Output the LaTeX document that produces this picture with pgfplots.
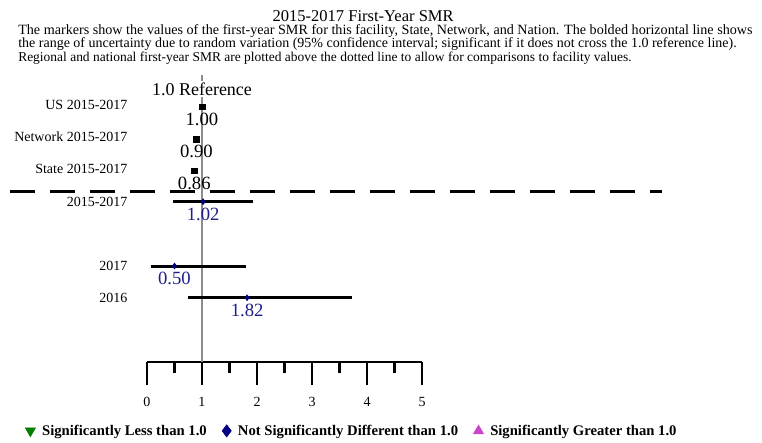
\documentclass[border=0pt]{standalone}
\usepackage{fontspec}
\setmainfont{Liberation Serif}
\usepackage{pgfplots}
\pgfplotsset{compat=1.18}

\definecolor{sigless}{RGB}{0,128,0}
\definecolor{notsig}{RGB}{0,0,128}
\definecolor{siggreater}{RGB}{204,68,204}
\definecolor{vallab}{RGB}{30,30,140}
\definecolor{refgray}{RGB}{140,140,140}

\begin{document}
\begin{tikzpicture}
\begin{axis}[
  scale only axis,
  width=206.25pt, height=215.25pt,
  xmin=0, xmax=5, ymin=79, ymax=366,
  clip=false,
  axis x line*=bottom,
  axis y line=none,
  x axis line style={-, line width=2pt},
  xtick={0,1,2,3,4,5},
  minor xtick={0.5,1.5,2.5,3.5,4.5},
  tick align=outside,
  major tick length=17.25pt,
  minor tick length=8.25pt,
  every tick/.style={black, line width=2pt},
  ytick=\empty,
  /pgf/number format/assume math mode=true,
  xticklabel style={font=\fontsize{10.5}{12}\selectfont, anchor=center, yshift=-12.75pt},
  legend columns=3,
  legend cell align=left,
  legend style={draw=none, fill=none, at={(-0.458,-0.240)}, anchor=west,
    font=\bfseries\fontsize{11}{12}\selectfont,
    /tikz/every odd column/.append style={column sep=3pt},
    /tikz/every even column/.append style={column sep=9.5pt}},
]
  % legend symbols
  \addlegendimage{only marks, mark=triangle*, mark size=4.4pt, mark options={rotate=180}, sigless}
  \addlegendentry{Significantly Less than 1.0}
  \addlegendimage{only marks, mark=diamond*, mark size=4.6pt, notsig}
  \addlegendentry{Not Significantly Different than 1.0}
  \addlegendimage{only marks, mark=triangle*, mark size=4.4pt, siggreater}
  \addlegendentry{Significantly Greater than 1.0}

  % 1.0 reference line
  \addplot[refgray, line width=0.8pt, forget plot] coordinates {(1,79) (1,366)};

  % separator between comparison rows and facility rows
  \addplot[black, line width=2.25pt, dash pattern=on 18.75pt off 11.25pt, forget plot]
    coordinates {(-2.491,249) (9.364,249)};

  % 95% confidence intervals
  \addplot[black, line width=2.25pt, forget plot] coordinates {(0.48,239.3) (1.93,239.3)};
  \addplot[black, line width=2.25pt, forget plot] coordinates {(0.07,175) (1.80,175)};
  \addplot[black, line width=2.25pt, forget plot] coordinates {(0.74,143.3) (3.73,143.3)};

  % US / Network / State
  \addplot[only marks, mark=square*, mark size=2.1pt, black, forget plot,
    point meta=x,
    nodes near coords={\pgfmathprintnumber[fixed, fixed zerofill, precision=2]{\pgfplotspointmeta}},
    every node near coord/.append style={anchor=center, yshift=-9.5pt, text=black,
      font=\fontsize{14}{16}\selectfont}]
    coordinates {(1.00,334.3) (0.90,302) (0.86,270.3)};

  % facility
  \addplot[only marks, mark=diamond*, mark size=2.2pt, notsig, forget plot,
    point meta=x,
    nodes near coords={\pgfmathprintnumber[fixed, fixed zerofill, precision=2]{\pgfplotspointmeta}},
    every node near coord/.append style={anchor=center, yshift=-9.5pt, text=vallab,
      font=\fontsize{14}{16}\selectfont}]
    coordinates {(1.02,239.3) (0.50,175) (1.82,143.3)};

  % row labels
  \begin{scope}[every node/.style={anchor=east, inner sep=0pt, font=\fontsize{10.5}{12}\selectfont}]
    \node at (axis cs:-0.351,336) {US 2015-2017};
    \node at (axis cs:-0.351,304) {Network 2015-2017};
    \node at (axis cs:-0.351,272) {State 2015-2017};
    \node at (axis cs:-0.351,239.3) {2015-2017};
    \node at (axis cs:-0.351,175) {2017};
    \node at (axis cs:-0.351,143.3) {2016};
  \end{scope}

  \node[fill=white, inner sep=1pt, font=\fontsize{13.5}{15}\selectfont] at (axis cs:1,352) {1.0 Reference};

  % title and description
  \node[font=\fontsize{12.4}{14}\selectfont] at (axis cs:3.93,425) {2015-2017 First-Year SMR};
  \begin{scope}[every node/.style={anchor=west, inner sep=0pt}]
    \node[font=\fontsize{10.6}{11}\selectfont] at (axis cs:-2.345,410) {The markers show the values of the first-year SMR for this facility, State, Network, and Nation. The bolded horizontal line shows};
    \node[font=\fontsize{10.5}{11}\selectfont] at (axis cs:-2.345,397) {the range of uncertainty due to random variation (95\% confidence interval; significant if it does not cross the 1.0 reference line).};
    \node[font=\fontsize{10.1}{11}\selectfont] at (axis cs:-2.345,383) {Regional and national first-year SMR are plotted above the dotted line to allow for comparisons to facility values.};
  \end{scope}

  % page frame
  \path (axis cs:-2.6727,0) rectangle (axis cs:11.1818,441);
\end{axis}
\end{tikzpicture}
\end{document}
